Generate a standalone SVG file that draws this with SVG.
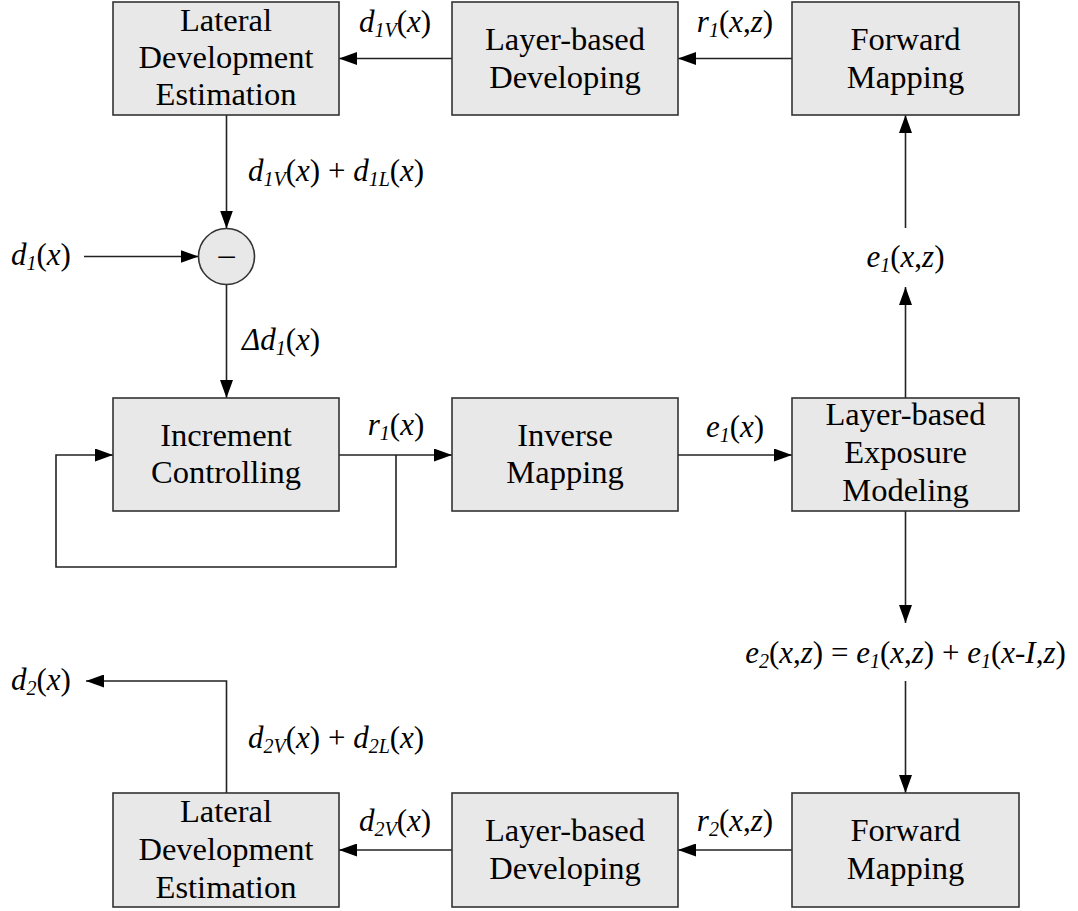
<svg xmlns="http://www.w3.org/2000/svg" width="1078" height="911" viewBox="0 0 1078 911">
<defs>
<marker id="ah" markerUnits="userSpaceOnUse" markerWidth="18" markerHeight="13" refX="18" refY="6.5" orient="auto">
<path d="M0,0 L18,6.5 L0,13 z" fill="#000"/>
</marker>
</defs>
<g id="connectors" fill="none" stroke="#222" stroke-width="1.6" marker-end="url(#ah)">
<line x1="452" y1="58.5" x2="339" y2="58.5"/>
<line x1="792" y1="58.5" x2="678" y2="58.5"/>
<line x1="226.5" y1="115" x2="226.5" y2="228.5"/>
<line x1="84" y1="256.5" x2="198.5" y2="256.5"/>
<line x1="226.5" y1="284.5" x2="226.5" y2="398"/>
<line x1="339" y1="455" x2="452" y2="455"/>
<polyline points="396,455 396,567 56,567 56,455 113,455"/>
<line x1="678" y1="455" x2="792" y2="455"/>
<line x1="905.5" y1="398" x2="905.5" y2="287"/>
<line x1="905.5" y1="228" x2="905.5" y2="115"/>
<line x1="905.5" y1="511" x2="905.5" y2="623"/>
<line x1="905.5" y1="681" x2="905.5" y2="793"/>
<line x1="792" y1="850" x2="678" y2="850"/>
<line x1="452" y1="850" x2="339" y2="850"/>
<polyline points="226.5,793 226.5,681 86,681"/>
</g>
<g id="nodes" font-family="Liberation Serif" font-size="32.5" text-anchor="middle" fill="#000">
<g id="lateral1">
<rect x="113" y="2" width="226" height="113" fill="#e8e8e8" stroke="#333" stroke-width="1.6"/>
<text x="226" y="30.5">Lateral</text>
<text x="226" y="68">Development</text>
<text x="226" y="105">Estimation</text>
</g>
<g id="developing1">
<rect x="452" y="2" width="226" height="113" fill="#e8e8e8" stroke="#333" stroke-width="1.6"/>
<text x="565" y="50">Layer-based</text>
<text x="565" y="88">Developing</text>
</g>
<g id="forward1">
<rect x="792" y="2" width="227" height="113" fill="#e8e8e8" stroke="#333" stroke-width="1.6"/>
<text x="905.5" y="50">Forward</text>
<text x="905.5" y="88">Mapping</text>
</g>
<g id="subtract">
<circle cx="226.5" cy="256.5" r="28" fill="#e8e8e8" stroke="#333" stroke-width="1.6"/>
<text x="226.5" y="265">–</text>
</g>
<g id="increment">
<rect x="113" y="398" width="226" height="113" fill="#e8e8e8" stroke="#333" stroke-width="1.6"/>
<text x="226" y="445.5">Increment</text>
<text x="226" y="483">Controlling</text>
</g>
<g id="inverse">
<rect x="452" y="398" width="226" height="113" fill="#e8e8e8" stroke="#333" stroke-width="1.6"/>
<text x="565" y="445.5">Inverse</text>
<text x="565" y="483">Mapping</text>
</g>
<g id="exposure">
<rect x="792" y="398" width="227" height="113" fill="#e8e8e8" stroke="#333" stroke-width="1.6"/>
<text x="905.5" y="425">Layer-based</text>
<text x="905.5" y="463">Exposure</text>
<text x="905.5" y="501">Modeling</text>
</g>
<g id="forward2">
<rect x="792" y="793" width="227" height="114" fill="#e8e8e8" stroke="#333" stroke-width="1.6"/>
<text x="905.5" y="841">Forward</text>
<text x="905.5" y="879">Mapping</text>
</g>
<g id="developing2">
<rect x="452" y="793" width="226" height="114" fill="#e8e8e8" stroke="#333" stroke-width="1.6"/>
<text x="565" y="841">Layer-based</text>
<text x="565" y="879">Developing</text>
</g>
<g id="lateral2">
<rect x="113" y="793" width="226" height="114" fill="#e8e8e8" stroke="#333" stroke-width="1.6"/>
<text x="226" y="822">Lateral</text>
<text x="226" y="860">Development</text>
<text x="226" y="898">Estimation</text>
</g>
</g>
<g id="labels" font-family="Liberation Serif" font-size="31" font-style="italic" fill="#000">
<text x="395" y="32" text-anchor="middle">d<tspan font-size="20" dy="5">1V</tspan><tspan font-style="normal" dy="-5">(</tspan>x<tspan font-style="normal">)</tspan></text>
<text x="735" y="32" text-anchor="middle">r<tspan font-size="20" dy="5">1</tspan><tspan font-style="normal" dy="-5">(</tspan>x<tspan font-style="normal">,</tspan>z<tspan font-style="normal">)</tspan></text>
<text x="248" y="181">d<tspan font-size="20" dy="5">1V</tspan><tspan font-style="normal" dy="-5">(</tspan>x<tspan font-style="normal">) + </tspan>d<tspan font-size="20" dy="5">1L</tspan><tspan font-style="normal" dy="-5">(</tspan>x<tspan font-style="normal">)</tspan></text>
<text x="11" y="265">d<tspan font-size="20" dy="5">1</tspan><tspan font-style="normal" dy="-5">(</tspan>x<tspan font-style="normal">)</tspan></text>
<text x="242" y="350">Δd<tspan font-size="20" dy="5">1</tspan><tspan font-style="normal" dy="-5">(</tspan>x<tspan font-style="normal">)</tspan></text>
<text x="396" y="435" text-anchor="middle">r<tspan font-size="20" dy="5">1</tspan><tspan font-style="normal" dy="-5">(</tspan>x<tspan font-style="normal">)</tspan></text>
<text x="735" y="437" text-anchor="middle">e<tspan font-size="20" dy="5">1</tspan><tspan font-style="normal" dy="-5">(</tspan>x<tspan font-style="normal">)</tspan></text>
<text x="905.5" y="266.5" text-anchor="middle">e<tspan font-size="20" dy="5">1</tspan><tspan font-style="normal" dy="-5">(</tspan>x<tspan font-style="normal">,</tspan>z<tspan font-style="normal">)</tspan></text>
<text x="905.5" y="663" text-anchor="middle">e<tspan font-size="20" dy="5">2</tspan><tspan font-style="normal" dy="-5">(</tspan>x<tspan font-style="normal">,</tspan>z<tspan font-style="normal">) = </tspan>e<tspan font-size="20" dy="5">1</tspan><tspan font-style="normal" dy="-5">(</tspan>x<tspan font-style="normal">,</tspan>z<tspan font-style="normal">) + </tspan>e<tspan font-size="20" dy="5">1</tspan><tspan font-style="normal" dy="-5">(</tspan>x-I<tspan font-style="normal">,</tspan>z<tspan font-style="normal">)</tspan></text>
<text x="11" y="690">d<tspan font-size="20" dy="5">2</tspan><tspan font-style="normal" dy="-5">(</tspan>x<tspan font-style="normal">)</tspan></text>
<text x="248" y="748">d<tspan font-size="20" dy="5">2V</tspan><tspan font-style="normal" dy="-5">(</tspan>x<tspan font-style="normal">) + </tspan>d<tspan font-size="20" dy="5">2L</tspan><tspan font-style="normal" dy="-5">(</tspan>x<tspan font-style="normal">)</tspan></text>
<text x="395" y="831" text-anchor="middle">d<tspan font-size="20" dy="5">2V</tspan><tspan font-style="normal" dy="-5">(</tspan>x<tspan font-style="normal">)</tspan></text>
<text x="735" y="831" text-anchor="middle">r<tspan font-size="20" dy="5">2</tspan><tspan font-style="normal" dy="-5">(</tspan>x<tspan font-style="normal">,</tspan>z<tspan font-style="normal">)</tspan></text>
</g>
</svg>
